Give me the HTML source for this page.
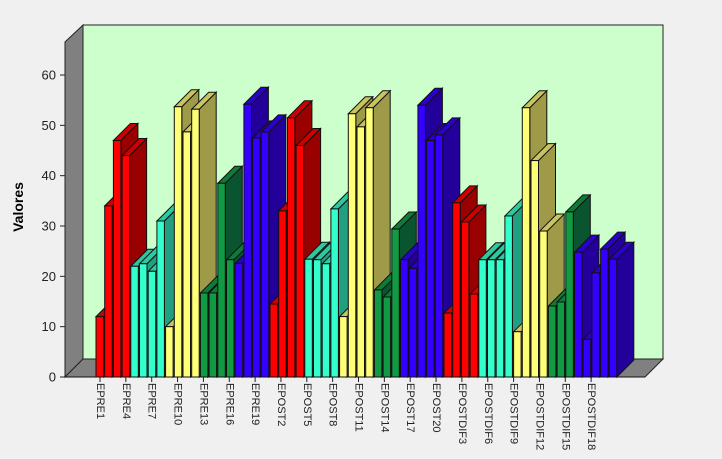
<!DOCTYPE html>
<html><head><meta charset="utf-8"><style>
html,body{margin:0;padding:0;background:#f0f0f0;}
svg{display:block;font-family:"Liberation Sans",sans-serif;}
</style></head><body>
<svg id="s" width="722" height="459" xmlns="http://www.w3.org/2000/svg">
<rect width="722" height="459" fill="#f0f0f0"/>
<polygon points="83,25 663,25 663,359 83,359" fill="#ccffcc" stroke="#222" stroke-width="1"/>
<polygon points="65,42 83,25 83,359 65,377" fill="#808080" stroke="#222" stroke-width="1"/>
<polygon points="65,377 83,359 663,359 645,377" fill="#808080" stroke="#222" stroke-width="1"/>
<g id="bars"></g>
<g id="ax" font-size="13" fill="#222"></g>
<text x="23" y="207" font-size="14" font-weight="bold" transform="rotate(-90 23 207)" text-anchor="middle">Valores</text>
</svg>
<script>
var C={R:["#ff0000","#990000","#cc0000"],C:["#33ffcc","#20a080","#2cc8a0"],Y:["#ffff77","#9e9a48","#c8c460"],G:["#119944","#0a5530","#0e7a38"],B:["#3300ff","#220099","#2a00cc"]};
var d=[["R",[12,34,47,44]],["C",[22,22.5,21,31]],["Y",[10,53.7,48.7,53.2]],["G",[16.7,16.7,38.5,23.3]],["B",[22.6,54.2,47.5,48.7]],
["R",[14.5,33,51.5,46]],["C",[23.4,23.3,22.5,33.4]],["Y",[12,52.3,49.7,53.5]],["G",[17.3,15.9,29.4]],["B",[23.3,21.6,54,47,48.1]],
["R",[12.7,34.6,30.8,16.5]],["C",[23.3,23.3,23.3,32]],["Y",[9,53.5,43,29]],["G",[14.1,14.9,32.8]],["B",[24.8,7.5,20.7,25.4,23.4]]];
var bars=[];d.forEach(function(g){g[1].forEach(function(v){bars.push([g[0],v]);});});
var s="",w=7.5,D=17,base=377,k=5.033;
bars.forEach(function(b,i){var x=96+i*8.7,t=base-b[1]*k,c=C[b[0]],xr=x+w;
s+='<polygon points="'+xr+','+t+' '+(xr+D)+','+(t-D)+' '+(xr+D)+','+(base-D)+' '+xr+','+base+'" fill="'+c[1]+'" stroke="#111" stroke-width="1"/>';
s+='<polygon points="'+x+','+t+' '+(x+D)+','+(t-D)+' '+(xr+D)+','+(t-D)+' '+xr+','+t+'" fill="'+c[2]+'" stroke="#111" stroke-width="1"/>';
s+='<rect x="'+x+'" y="'+t+'" width="'+w+'" height="'+(base-t)+'" fill="'+c[0]+'" stroke="#111" stroke-width="1"/>';});
document.getElementById("bars").innerHTML=s;
var a="";for(var v=0;v<=60;v+=10){var y=base-v*k;a+='<line x1="60" x2="65" y1="'+y+'" y2="'+y+'" stroke="#222"/><text x="56" y="'+(y+4.5)+'" text-anchor="end">'+v+'</text>';}
var L=["EPRE1","EPRE4","EPRE7","EPRE10","EPRE13","EPRE16","EPRE19","EPOST2","EPOST5","EPOST8","EPOST11","EPOST14","EPOST17","EPOST20","EPOSTDIF3","EPOSTDIF6","EPOSTDIF9","EPOSTDIF12","EPOSTDIF15","EPOSTDIF18"];
L.forEach(function(l,i){var x=97+i*25.85;a+='<line x1="'+(x+3)+'" x2="'+(x+3)+'" y1="377" y2="382" stroke="#222"/><text x="'+x+'" y="383" font-size="11" transform="rotate(90 '+x+' 383)">'+l+'</text>';});
a+='<line x1="65" y1="377" x2="645" y2="377" stroke="#111"/>';
document.getElementById("ax").innerHTML=a;
</script>
</body></html>
